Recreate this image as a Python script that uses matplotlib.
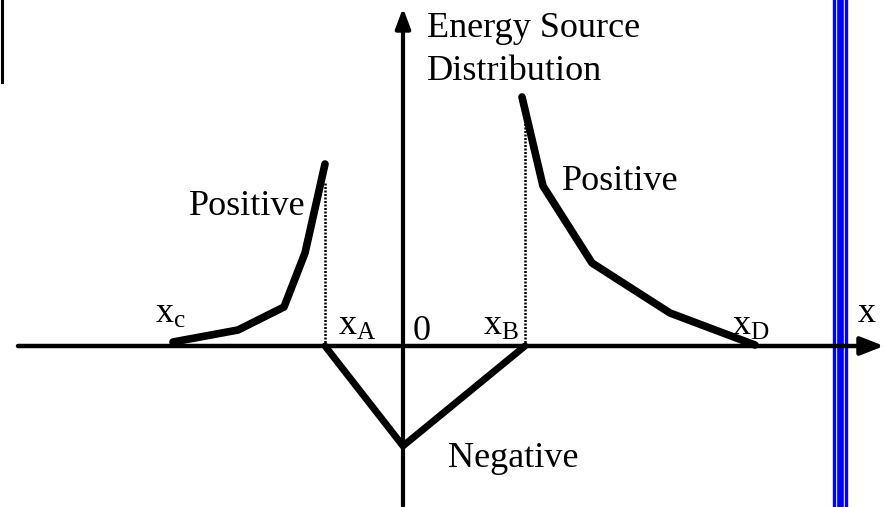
import matplotlib
matplotlib.use("Agg")
import matplotlib.pyplot as plt

plt.rcParams['font.family'] = ['Liberation Serif', 'DejaVu Serif']
plt.rcParams['mathtext.fontset'] = 'custom'
plt.rcParams['mathtext.rm'] = 'Liberation Serif'
plt.rcParams['mathtext.it'] = 'Liberation Serif'

# Data (x relative to origin, y = energy source distribution)
left_x = [-230, -165, -119, -98, -78]
left_y = [4, 16, 39, 93, 182]
right_x = [119, 140, 189, 267, 352]
right_y = [249, 160, 83, 33, 1]
neg_x = [-78, 0, 122]
neg_y = [0, -100, 0]
xA, xB = -78, 122
xA_top, xB_top = 182, 226
wall_x = [431, 437, 443]
wall_w = [2.4, 4.8, 2.4]

fig = plt.figure(figsize=(8.86, 5.07), dpi=100)
ax = fig.add_axes([0, 0, 1, 1])
ax.set_xlim(-403, 483)
ax.set_ylim(-161, 346)
ax.axis('off')

# axes with arrows
ax.annotate('', xy=(481, 0), xytext=(-385, 0),
            arrowprops=dict(arrowstyle='-|>,head_length=1.4,head_width=0.55', lw=3.2, color='black',
                            shrinkA=0, shrinkB=0))
ax.annotate('', xy=(0, 338), xytext=(0, -160),
            arrowprops=dict(arrowstyle='-|>,head_length=1.2,head_width=0.45', lw=3.0, color='black',
                            shrinkA=0, shrinkB=0))

# dotted verticals
ax.plot([xA, xA], [0, xA_top - 18], color='black', lw=1.8, ls=(0, (0.8, 0.6)))
ax.plot([xB, xB], [0, xB_top], color='black', lw=1.8, ls=(0, (0.8, 0.6)))

# curves
ax.plot(left_x, left_y, color='black', lw=5.5, solid_capstyle='round', solid_joinstyle='round')
ax.plot(right_x, right_y, color='black', lw=5.5, solid_capstyle='round', solid_joinstyle='round')
ax.plot(neg_x, neg_y, color='black', lw=5, solid_capstyle='round', solid_joinstyle='miter')

# blue wall
for wx, ww in zip(wall_x, wall_w):
    ax.plot([wx, wx], [-161, 346], color='#0000ff', lw=ww)

# left border fragment
ax.plot([-401.5, -401.5], [346, 264], color='black', lw=2.2)

fs = 26
ax.text(24, 309, 'Energy Source', fontsize=fs, ha='left', va='baseline')
ax.text(24, 266, 'Distribution', fontsize=fs, ha='left', va='baseline')
ax.text(-214, 131, 'Positive', fontsize=fs, ha='left', va='baseline')
ax.text(159, 156, 'Positive', fontsize=fs, ha='left', va='baseline')
ax.text(45, -121, 'Negative', fontsize=fs, ha='left', va='baseline')

ax.text(-248, 23, r'x$_{\mathrm{c}}$', fontsize=fs, ha='left', va='baseline')
ax.text(-65, 11, r'x$_{\mathrm{A}}$', fontsize=fs, ha='left', va='baseline')
ax.text(10, 6, '0', fontsize=fs, ha='left', va='baseline')
ax.text(80, 11, r'x$_{\mathrm{B}}$', fontsize=fs, ha='left', va='baseline')
ax.text(329, 11, r'x$_{\mathrm{D}}$', fontsize=fs, ha='left', va='baseline')
ax.text(455, 24, 'x', fontsize=fs, ha='left', va='baseline')

fig.savefig('out.png', dpi=100)
